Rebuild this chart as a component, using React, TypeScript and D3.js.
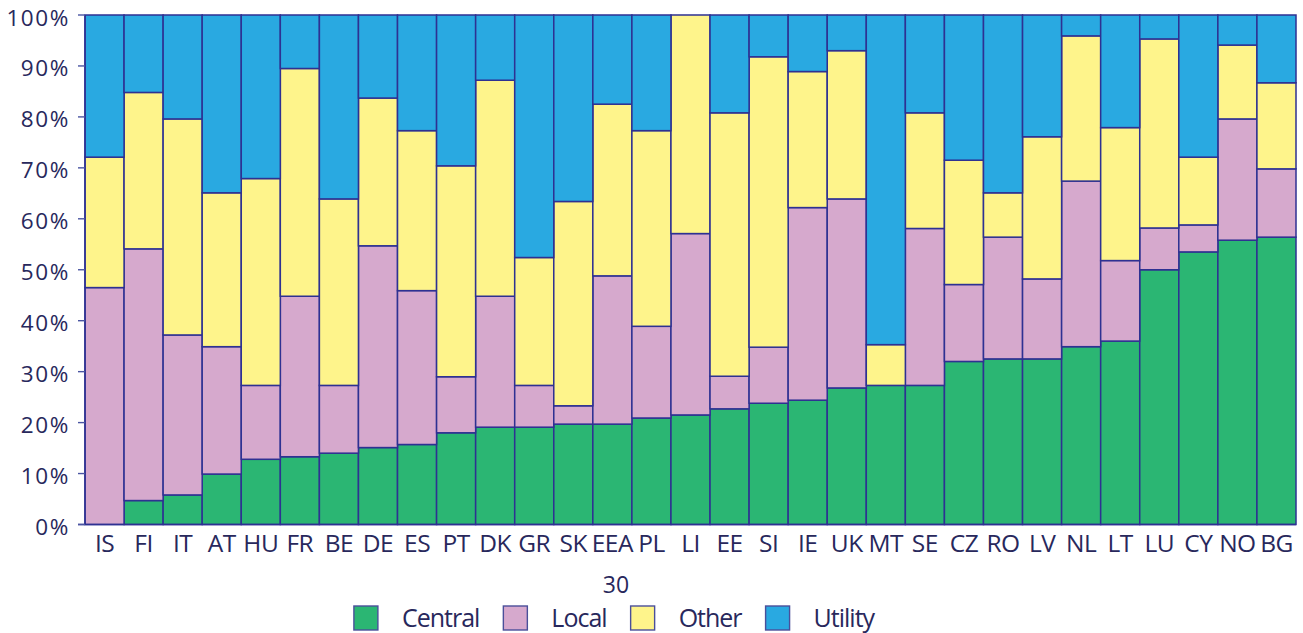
import React, { useEffect, useRef } from "react";
import * as d3 from "d3";

const categories = ["IS","FI","IT","AT","HU","FR","BE","DE","ES","PT","DK","GR","SK","EEA","PL","LI","EE","SI","IE","UK","MT","SE","CZ","RO","LV","NL","LT","LU","CY","NO","BG"];
const central = [0,4.7,5.8,9.9,12.8,13.3,14.0,15.1,15.7,18.0,19.1,19.1,19.7,19.7,20.9,21.5,22.7,23.8,24.4,26.8,27.3,27.3,32.0,32.5,32.5,34.9,36.0,50.0,53.5,55.8,56.4];
const local = [46.5,49.4,31.4,25.0,14.5,31.5,13.3,39.6,30.2,11.0,25.7,8.2,3.6,29.1,18.0,35.6,6.4,11.0,37.8,37.1,0,30.8,15.1,23.9,15.7,32.5,15.8,8.2,5.3,23.8,13.4];
const other = [25.6,30.7,42.4,30.2,40.6,44.7,36.6,29.0,31.4,41.4,42.4,25.1,40.1,33.7,38.4,42.9,51.7,57.0,26.7,29.1,8.0,22.7,24.4,8.7,27.9,28.5,26.1,37.1,13.3,14.5,16.9];
const utility = [27.9,15.2,20.4,34.9,32.1,10.5,36.1,16.3,22.7,29.6,12.8,47.6,36.6,17.5,22.7,0,19.2,8.2,11.1,7.0,64.7,19.2,28.5,34.9,23.9,4.1,22.1,4.7,27.9,5.9,13.3];
const seriesNames = ["Central","Local","Other","Utility"];
const seriesColors = ["#2bb673","#d6a9cd","#fef48b","#29a9e1"];
const yTicks = [0,10,20,30,40,50,60,70,80,90,100];
const footnote = "30";

const W = 1303, H = 633;
const M = { left: 85, right: 1296, top: 15, bottom: 524.5 };
const NAVY = "#2e3192";
const TEXT = "#28285c";
const FONT = "'Open Sans', 'Noto Sans', sans-serif";

export default function App() {
  const ref = useRef<SVGSVGElement | null>(null);

  useEffect(() => {
    const svg = d3.select(ref.current);
    svg.selectAll("*").remove();

    const rows = categories.map((c, i) => ({
      cat: c,
      Central: central[i],
      Local: local[i],
      Other: other[i],
      Utility: utility[i],
    }));
    const stack = d3.stack<any>().keys(seriesNames);
    const stacked = stack(rows);

    const x = d3.scaleBand<string>().domain(categories).range([M.left, M.right]).padding(0);
    const y = d3.scaleLinear().domain([0, 100]).range([M.bottom, M.top]);

    const g = svg.append("g");
    stacked.forEach((s, si) => {
      g.append("g")
        .selectAll("rect")
        .data(s.filter((d) => d[1] - d[0] > 0))
        .join("rect")
        .attr("x", (d: any) => x(d.data.cat)!)
        .attr("width", x.bandwidth())
        .attr("y", (d) => y(d[1]))
        .attr("height", (d) => y(d[0]) - y(d[1]))
        .attr("fill", seriesColors[si])
        .attr("stroke", NAVY)
        .attr("stroke-width", 1.5);
    });

    // x-axis baseline
    g.append("line")
      .attr("x1", 78).attr("x2", M.right)
      .attr("y1", y(0)).attr("y2", y(0))
      .attr("stroke", NAVY).attr("stroke-width", 1.7);
    // left edge line
    g.append("line")
      .attr("x1", M.left).attr("x2", M.left)
      .attr("y1", y(0)).attr("y2", y(100))
      .attr("stroke", NAVY).attr("stroke-width", 1.5);

    // y ticks
    const yt = g.append("g");
    yt.selectAll("line")
      .data(yTicks)
      .join("line")
      .attr("x1", 78).attr("x2", M.left)
      .attr("y1", (d) => y(d)).attr("y2", (d) => y(d))
      .attr("stroke", "#4a55a2").attr("stroke-width", 1.4);
    yt.selectAll("text")
      .data(yTicks)
      .join("text")
      .attr("x", 70)
      .attr("y", (d) => y(d) + 10.5)
      .attr("text-anchor", "end")
      .attr("font-family", FONT)
      .attr("font-size", 22.5)
      .attr("letter-spacing", 1.6)
      .attr("fill", TEXT)
      .text((d) => d + "%");

    // x labels
    g.append("g")
      .selectAll("text")
      .data(categories)
      .join("text")
      .attr("x", (d) => x(d)! + x.bandwidth() / 2)
      .attr("y", 551.5)
      .attr("text-anchor", "middle")
      .attr("font-family", FONT)
      .attr("font-size", 24.5)
      .attr("letter-spacing", -0.5)
      .attr("fill", TEXT)
      .text((d) => d);

    // footnote
    g.append("text")
      .attr("x", 616)
      .attr("y", 593.3)
      .attr("text-anchor", "middle")
      .attr("font-family", FONT)
      .attr("font-size", 23)
      .attr("fill", TEXT)
      .text(footnote);

    // legend
    const leg = g.append("g");
    const sq = 24, gap = 24, itemGap = 24;
    const items = seriesNames.map((n, i) => {
      const gi = leg.append("g");
      gi.append("rect")
        .attr("width", sq).attr("height", sq)
        .attr("y", 606)
        .attr("fill", seriesColors[i])
        .attr("stroke", "#4a4f9a")
        .attr("stroke-width", 1.4);
      const t = gi.append("text")
        .attr("x", sq + gap)
        .attr("y", 626.5)
        .attr("font-family", FONT)
        .attr("font-size", 25)
        .attr("letter-spacing", -1)
        .attr("fill", TEXT)
        .text(n);
      const w = (t.node() as SVGTextElement).getComputedTextLength();
      return { gi, w: sq + gap + w };
    });
    const total = items.reduce((a, b) => a + b.w, 0) + itemGap * (items.length - 1);
    let cx = 614 - total / 2;
    items.forEach((it) => {
      it.gi.attr("transform", `translate(${cx},0)`);
      cx += it.w + itemGap;
    });
  }, []);

  return (
    <svg
      ref={ref}
      width={W}
      height={H}
      style={{ position: "absolute", left: 0, top: 0, background: "#fff" }}
    />
  );
}
